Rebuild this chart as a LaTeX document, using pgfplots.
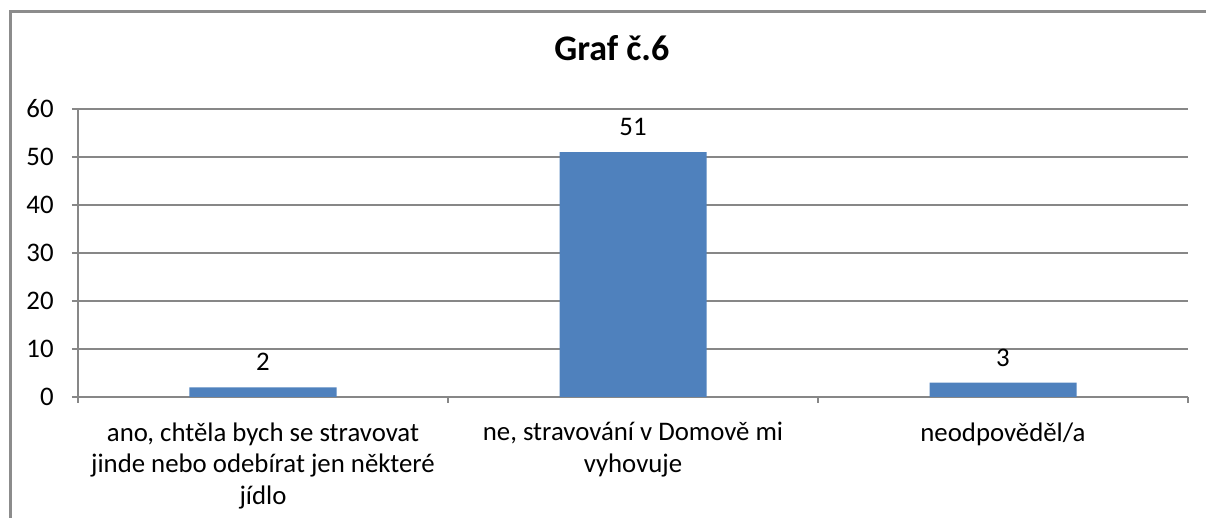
\documentclass[border=0pt]{standalone}
\usepackage{pgfplots}
\pgfplotsset{compat=1.18}
\usepackage{fontspec}
\setmainfont{Carlito}
\definecolor{barblue}{HTML}{4F81BD}
\definecolor{gridgray}{HTML}{878787}
\definecolor{framegray}{HTML}{8C8C8C}
\begin{document}
\begin{tikzpicture}
\useasboundingbox (-39pt,-60.5pt) rectangle (564pt,198.5pt);
\clip (-39pt,-60.5pt) rectangle (564pt,198.5pt);
\draw[framegray, line width=1.5pt] (-33.75pt,-80pt) -- (-33.75pt,192.75pt) -- (600pt,192.75pt);
\begin{axis}[
  at={(0pt,0pt)}, anchor=south west,
  scale only axis, width=555pt, height=144pt,
  xmin=-0.5, xmax=2.5, ymin=0, ymax=60,
  ytick={0,10,...,60},
  ymajorgrids, grid style={gridgray, line width=0.6pt},
  axis x line*=bottom, axis y line*=left,
  axis line style={gridgray, line width=0.6pt},
  tick style={gridgray, line width=0.6pt},
  tick align=outside, major tick length=3pt,
  xtick={-0.5,0.5,1.5,2.5}, xticklabels={},
  extra x ticks={0,1,2},
  extra x tick labels={{ano, chtěla bych se stravovat\\jinde nebo odebírat jen některé\\jídlo},{ne, stravování v Domově mi\\vyhovuje},{neodpověděl/a}},
  extra x tick style={major tick length=0pt, grid=none},
  /pgf/number format/assume math mode=true,
  ticklabel style={font=\fontsize{13.4}{15.75}\selectfont, text=black},
  xticklabel style={align=center, anchor=north, inner sep=0pt, yshift=-12.5pt},
  yticklabel style={anchor=east, inner sep=0pt, xshift=-9pt},
  title={Graf č.6},
  title style={font=\bfseries\fontsize{18}{21}\selectfont, at={(axis description cs:0.481,1)}, anchor=base, yshift=18.5pt, inner sep=0pt},
  ybar, bar width=73.5pt,
  nodes near coords,
  nodes near coords style={font=\fontsize{13.4}{15}\selectfont, anchor=south, inner sep=0pt, yshift=8pt, text=black},
]
\addplot[fill=barblue, draw=none] coordinates {(0,2) (1,51) (2,3)};
\end{axis}
\end{tikzpicture}
\end{document}
